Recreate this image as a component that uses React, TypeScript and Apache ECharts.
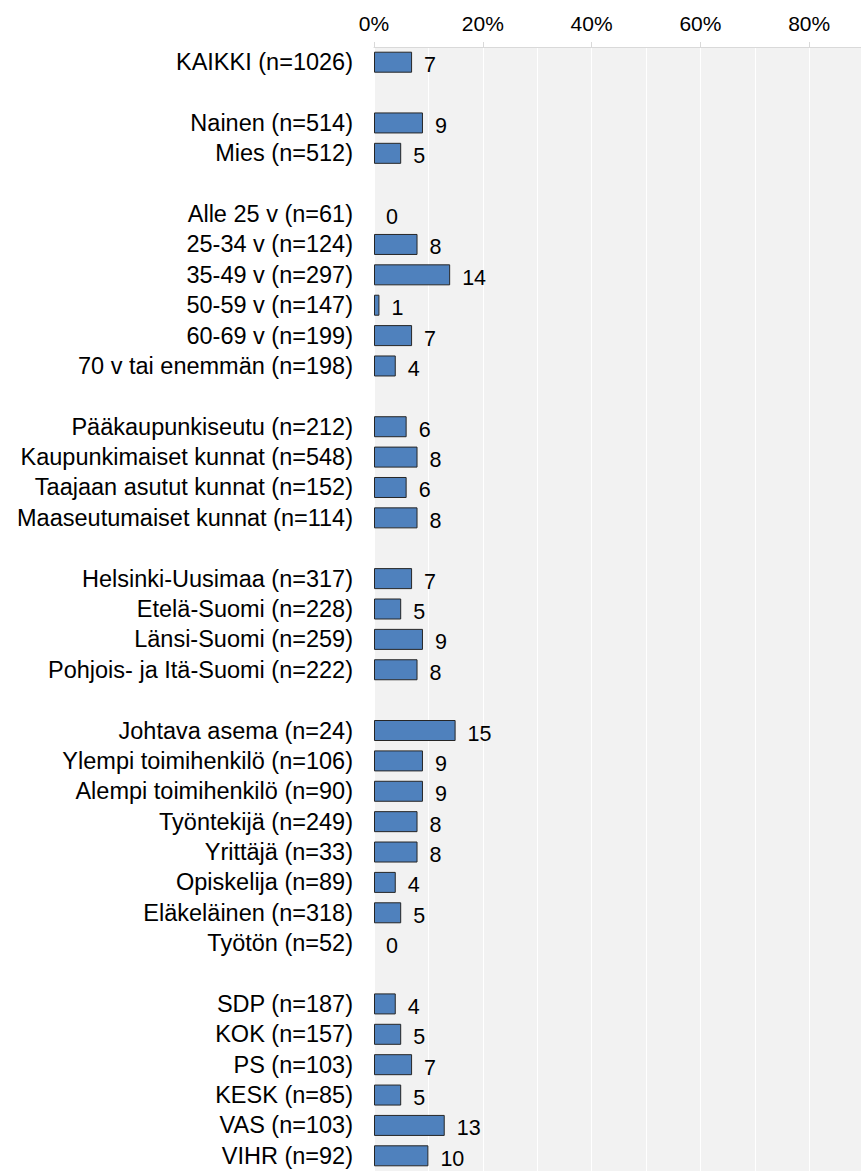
import React, { useEffect, useRef } from "react";
import * as echarts from "echarts";

const categories: string[] = [
  "KAIKKI (n=1026)",
  "",
  "Nainen (n=514)",
  "Mies (n=512)",
  " ",
  "Alle 25 v (n=61)",
  "25-34 v (n=124)",
  "35-49 v (n=297)",
  "50-59 v (n=147)",
  "60-69 v (n=199)",
  "70 v tai enemmän (n=198)",
  "  ",
  "Pääkaupunkiseutu (n=212)",
  "Kaupunkimaiset kunnat (n=548)",
  "Taajaan asutut kunnat (n=152)",
  "Maaseutumaiset kunnat (n=114)",
  "   ",
  "Helsinki-Uusimaa (n=317)",
  "Etelä-Suomi (n=228)",
  "Länsi-Suomi (n=259)",
  "Pohjois- ja Itä-Suomi (n=222)",
  "    ",
  "Johtava asema (n=24)",
  "Ylempi toimihenkilö (n=106)",
  "Alempi toimihenkilö (n=90)",
  "Työntekijä (n=249)",
  "Yrittäjä (n=33)",
  "Opiskelija (n=89)",
  "Eläkeläinen (n=318)",
  "Työtön (n=52)",
  "     ",
  "SDP (n=187)",
  "KOK (n=157)",
  "PS (n=103)",
  "KESK (n=85)",
  "VAS (n=103)",
  "VIHR (n=92)",
];

const values: (number | null)[] = [
  7,
  null,
  9, 5,
  null,
  0, 8, 14, 1, 7, 4,
  null,
  6, 8, 6, 8,
  null,
  7, 5, 9, 8,
  null,
  15, 9, 9, 8, 8, 4, 5, 0,
  null,
  4, 5, 7, 5, 13, 10,
];

const tickLabels: number[] = [0, 20, 40, 60, 80];

const FONT = "'Liberation Sans', Arial, sans-serif";

export default function App() {
  const ref = useRef<HTMLDivElement>(null);

  useEffect(() => {
    if (!ref.current) return;
    const chart = echarts.init(ref.current, undefined, { renderer: "svg" });
    const data = values.map((v) =>
      v === null
        ? "-"
        : v === 0
        ? { value: v, itemStyle: { borderWidth: 0 } }
        : { value: v }
    );
    chart.setOption({
      animation: false,
      backgroundColor: "#ffffff",
      grid: {
        left: 374,
        right: 0,
        top: 47,
        bottom: 0,
        show: true,
        backgroundColor: "#f2f2f2",
        borderWidth: 0,
      },
      xAxis: {
        type: "value",
        position: "top",
        min: 0,
        max: 100,
        interval: 20,
        axisLine: { show: true, lineStyle: { color: "#d9d9d9", width: 1 } },
        axisTick: { show: true, length: 5, lineStyle: { color: "#d9d9d9" } },
        axisLabel: {
          margin: 13,
          color: "#000",
          fontSize: 21,
          fontFamily: FONT,
          formatter: (v: number) => (tickLabels.includes(v) ? v + "%" : ""),
        },
        splitLine: { show: true, lineStyle: { color: "#ffffff", width: 1 } },
        minorTick: { show: false, splitNumber: 2 },
        minorSplitLine: { show: true, lineStyle: { color: "#ffffff", width: 1 } },
      },
      yAxis: {
        type: "category",
        inverse: true,
        data: categories,
        axisLine: { show: false },
        axisTick: { show: false },
        axisLabel: {
          interval: 0,
          margin: 21,
          color: "#000",
          fontSize: 23.5,
          fontFamily: FONT,
        },
      },
      series: [
        {
          type: "bar",
          data,
          barWidth: 21,
          itemStyle: {
            color: "#4f81bd",
            borderColor: "#262626",
            borderWidth: 1,
          },
          label: {
            show: true,
            position: "right",
            distance: 12,
            offset: [0, 3],
            color: "#000",
            fontSize: 21.5,
            fontFamily: FONT,
            formatter: (p: any) =>
              p.value === null || p.value === undefined || p.value === "-"
                ? ""
                : String(Math.round(p.value)),
          },
        },
      ],
    });
    return () => chart.dispose();
  }, []);

  return (
    <div
      style={{
        position: "absolute",
        left: 0,
        top: 0,
        width: 861,
        height: 1171,
        overflow: "hidden",
      }}
    >
      <div ref={ref} style={{ width: 921, height: 1171 }} />
    </div>
  );
}
